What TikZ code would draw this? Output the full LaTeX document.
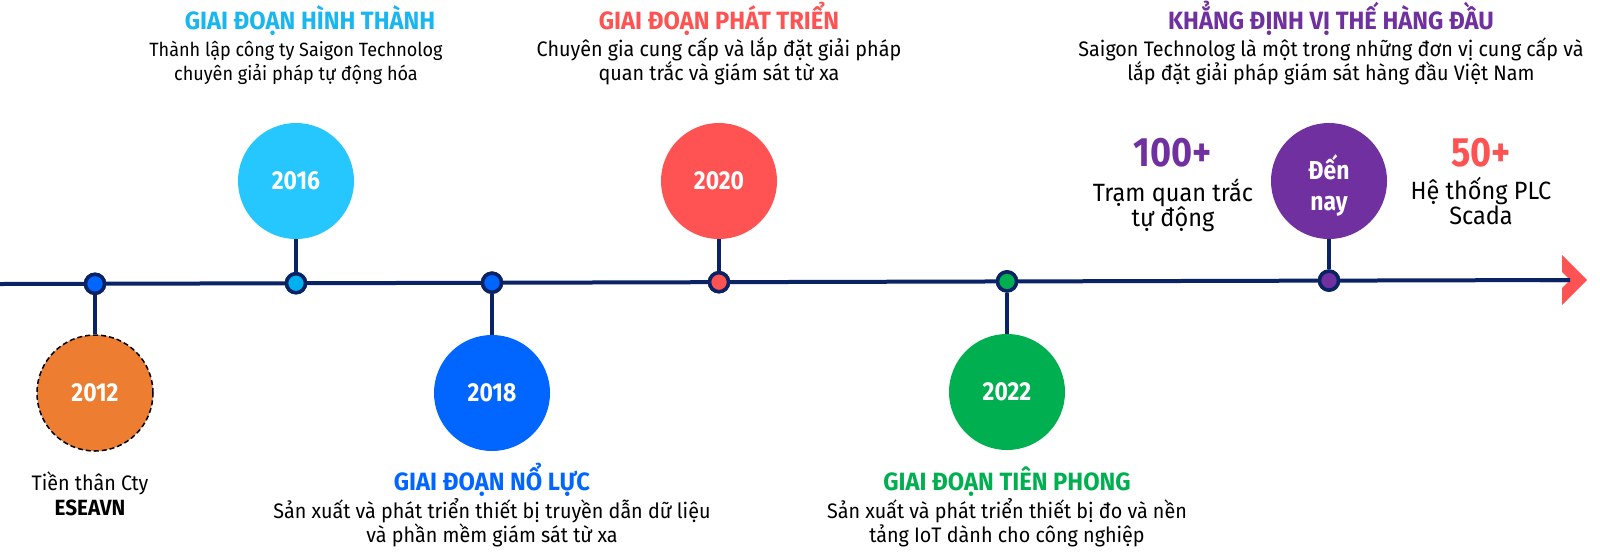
\documentclass[tikz,border=0pt]{standalone}
\usepackage{fontspec}
\setmainfont{Fira Sans}[FakeStretch=0.94]
\newfontfamily\yearfont{Fira Sans}[FakeStretch=0.88]
\newfontfamily\titlefont{Fira Sans}[FakeStretch=0.95]
\definecolor{navy}{RGB}{10,35,100}
\definecolor{corange}{RGB}{237,125,49}
\definecolor{clight}{RGB}{38,198,255}
\definecolor{clightdot}{RGB}{0,176,240}
\definecolor{ctitle16}{RGB}{25,182,240}
\definecolor{cblue}{RGB}{0,102,255}
\definecolor{cred}{RGB}{255,82,82}
\definecolor{cgreen}{RGB}{0,176,80}
\definecolor{cpurple}{RGB}{112,48,160}
\tikzset{
  yearc/.style={circle, minimum size=116pt, inner sep=0pt, text=white,
    font=\yearfont\bfseries\fontsize{26}{30}\selectfont},
  dotc/.style={circle, minimum size=19pt, inner sep=0pt, draw=navy, line width=3.5pt},
  stemline/.style={draw=navy, line width=4pt},
  mainline/.style={draw=navy, line width=4pt},
  ttl/.style={anchor=base, inner sep=0pt, font=\titlefont\bfseries\fontsize{25}{29}\selectfont},
  bodyt/.style={anchor=base, inner sep=0pt, text=black, font=\fontsize{21}{25}\selectfont},
  bodys/.style={anchor=base, inner sep=0pt, text=black, font=\fontsize{19.2}{23}\selectfont},
  bigno/.style={anchor=base, inner sep=0pt, font=\yearfont\bfseries\fontsize{41}{45}\selectfont},
  statt/.style={anchor=base, inner sep=0pt, text=black, font=\fontsize{25}{29}\selectfont},
}
\begin{document}
\begin{tikzpicture}[x=1pt,y=-1pt]
\useasboundingbox (0,0) rectangle (1600,558);
\fill[white] (0,0) rectangle (1600,558);

% timeline
\coordinate (lstart) at (0,284);
\coordinate (lend) at (1570,280);
\draw[mainline] (lstart) -- (lend);
\fill[cred] (1562,255) -- (1587,280) -- (1562,305) -- (1562,288) -- (1570,280) -- (1562,272) -- cycle;
\draw[mainline] (1540,280.2) -- (lend);

% year circles
\node[yearc, fill=corange, draw=black, dash pattern=on 5pt off 3pt, line width=1.5pt] (c2012) at (95,393) {2012};
\node[yearc, fill=clight] (c2016) at (296,181) {2016};
\node[yearc, fill=cblue] (c2018) at (492,393) {2018};
\node[yearc, fill=cred] (c2020) at (719,181) {2020};
\node[yearc, fill=cgreen] (c2022) at (1007,392) {2022};
\node[yearc, fill=cpurple] (cnow) at (1329,181) {};
\node[align=center, text=white, inner sep=0pt, font=\yearfont\bfseries\fontsize{26}{31}\selectfont] (lnow) at (1329,185) {Đến\\nay};

% dots
\node[dotc, fill=cblue] (d2012) at (95,283.8) {};
\node[dotc, fill=clightdot] (d2016) at (296,283.2) {};
\node[dotc, fill=cblue] (d2018) at (492,282.7) {};
\node[dotc, fill=cred] (d2020) at (719,282.2) {};
\node[dotc, fill=cgreen] (d2022) at (1007,281.4) {};
\node[dotc, fill=cpurple] (dnow) at (1329,280.6) {};

% stems
\draw[stemline] (d2012.south) -- (c2012.north);
\draw[stemline] (d2016.north) -- (c2016.south);
\draw[stemline] (d2018.south) -- (c2018.north);
\draw[stemline] (d2020.north) -- (c2020.south);
\draw[stemline] (d2022.south) -- (c2022.north);
\draw[stemline] (dnow.north) -- (cnow.south);
% dots over stems
\node[dotc, fill=cblue] at (d2012) {};
\node[dotc, fill=clightdot] at (d2016) {};
\node[dotc, fill=cblue] at (d2018) {};
\node[dotc, fill=cred] at (d2020) {};
\node[dotc, fill=cgreen] at (d2022) {};
\node[dotc, fill=cpurple] at (dnow) {};

% top texts
\node[ttl, text=ctitle16] (t16) at (310,29) {GIAI ĐOẠN HÌNH THÀNH};
\node[bodys] (b16a) at (296,56) {Thành lập công ty Saigon Technolog};
\node[bodys] (b16b) at (296,80) {chuyên giải pháp tự động hóa};

\node[ttl, text=cred] (t20) at (719,29) {GIAI ĐOẠN PHÁT TRIỂN};
\node[bodyt] (b20a) at (719,56) {Chuyên gia cung cấp và lắp đặt giải pháp};
\node[bodyt] (b20b) at (719,80) {quan trắc và giám sát từ xa};

\node[ttl, text=cpurple] (tnow) at (1331,29) {KHẲNG ĐỊNH VỊ THẾ HÀNG ĐẦU};
\node[bodyt] (bnowa) at (1331,56) {Saigon Technolog là một trong những đơn vị cung cấp và};
\node[bodyt] (bnowb) at (1331,80) {lắp đặt giải pháp giám sát hàng đầu Việt Nam};

% stats
\node[bigno, text=cpurple] (n100) at (1173,166) {100+};
\node[statt] (s100a) at (1173,201) {Trạm quan trắc};
\node[statt] (s100b) at (1173,226) {tự động};
\node[bigno, text=cred] (n50) at (1481,166) {50+};
\node[statt] (s50a) at (1481,199) {Hệ thống PLC};
\node[statt] (s50b) at (1481,224) {Scada};

% bottom texts
\node[bodyt] (b12a) at (90,490) {Tiền thân Cty};
\node[bodyt, font=\bfseries\fontsize{22}{26}\selectfont] (b12b) at (90,515) {ESEAVN};

\node[ttl, text=cblue] (t18) at (492,490) {GIAI ĐOẠN NỔ LỰC};
\node[bodyt] (b18a) at (492,518) {Sản xuất và phát triển thiết bị truyền dẫn dữ liệu};
\node[bodyt] (b18b) at (492,542) {và phần mềm giám sát từ xa};

\node[ttl, text=cgreen] (t22) at (1007,490) {GIAI ĐOẠN TIÊN PHONG};
\node[bodyt] (b22a) at (1007,518) {Sản xuất và phát triển thiết bị đo và nền};
\node[bodyt] (b22b) at (1007,542) {tảng IoT dành cho công nghiệp};
\end{tikzpicture}
\end{document}
